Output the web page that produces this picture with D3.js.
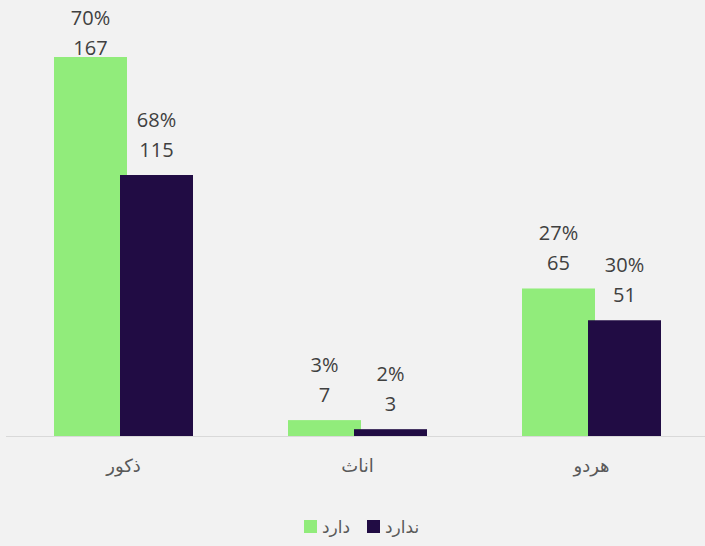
<!DOCTYPE html>
<html>
<head>
<meta charset="utf-8">
<script src="https://cdn.jsdelivr.net/npm/d3@7"></script>
<style>
  html, body { margin: 0; padding: 0; background: #f2f2f2; }
  svg { display: block; }
</style>
</head>
<body>
<svg id="chart"></svg>
<script>
// Data
const categories = ["ذکور", "اناث", "هردو"];
const seriesNames = ["دارد", "ندارد"];
const hasValues = [167, 7, 65];
const notValues = [115, 3, 51];
const hasPercents = ["70%", "3%", "27%"];
const notPercents = ["68%", "2%", "30%"];
const colors = ["#91ec7b", "#210c44"];

const W = 705, H = 546;
const baseY = 436;

const svg = d3.select("#chart")
    .attr("width", W)
    .attr("height", H);

svg.append("rect")
    .attr("width", W).attr("height", H)
    .attr("fill", "#f2f2f2");

// Scales
const x = d3.scaleBand()
    .domain(categories)
    .range([6.5, 708.5])
    .paddingInner(0)
    .paddingOuter(0);

const y = d3.scaleLinear()
    .domain([0, 167])
    .range([baseY, 57]);

const barW = 73;
const step = 66;

const rows = [];
categories.forEach((c, i) => {
    rows.push({ cat: c, s: 0, v: hasValues[i], p: hasPercents[i] });
    rows.push({ cat: c, s: 1, v: notValues[i], p: notPercents[i] });
});

const barX = d => x(d.cat) + x.bandwidth() / 2 - (barW + step) / 2 + d.s * step;

// Bars (green first, purple over it)
svg.selectAll("rect.bar")
    .data(rows)
    .enter()
    .append("rect")
    .attr("class", "bar")
    .attr("x", d => barX(d))
    .attr("y", d => y(d.v))
    .attr("width", barW)
    .attr("height", d => baseY - y(d.v))
    .attr("fill", d => colors[d.s]);

// Axis line + category labels
const xAxis = d3.axisBottom(x).tickSize(0).tickPadding(34);
const gx = svg.append("g")
    .attr("transform", `translate(0,${baseY})`)
    .call(xAxis);
gx.select(".domain").attr("stroke", "#d9d9d9").attr("d", `M6,0.5H${W}`);
gx.selectAll("text")
    .attr("fill", "#595959")
    .attr("font-family", "'Noto Sans', 'DejaVu Sans', sans-serif")
    .attr("font-size", 18)
    .attr("dy", "0.1em");

// Labels: count and percent
const lab = svg.selectAll("g.lab")
    .data(rows)
    .enter()
    .append("g")
    .attr("class", "lab")
    .attr("transform", d => `translate(${barX(d) + barW / 2},${Math.max(y(d.v) - 18, 55)})`);

lab.append("text")
    .attr("text-anchor", "middle")
    .attr("fill", "#404040")
    .attr("font-family", "'Open Sans', sans-serif")
    .attr("font-size", 20)
    .text(d => d.v);

lab.append("text")
    .attr("text-anchor", "middle")
    .attr("y", -30)
    .attr("fill", "#404040")
    .attr("font-family", "'Open Sans', sans-serif")
    .attr("font-size", 20)
    .text(d => d.p);

// Legend
const legendX = [304, 367];
const leg = svg.selectAll("g.leg")
    .data(seriesNames)
    .enter()
    .append("g")
    .attr("class", "leg")
    .attr("transform", (d, i) => `translate(${legendX[i]},520)`);

leg.append("rect")
    .attr("width", 13).attr("height", 13)
    .attr("fill", (d, i) => colors[i]);

leg.append("text")
    .attr("x", 18)
    .attr("y", 13)
    .attr("fill", "#595959")
    .attr("font-family", "'Noto Sans', 'DejaVu Sans', sans-serif")
    .attr("font-size", 17)
    .style("direction", "ltr")
    .text(d => d);
</script>
</body>
</html>
